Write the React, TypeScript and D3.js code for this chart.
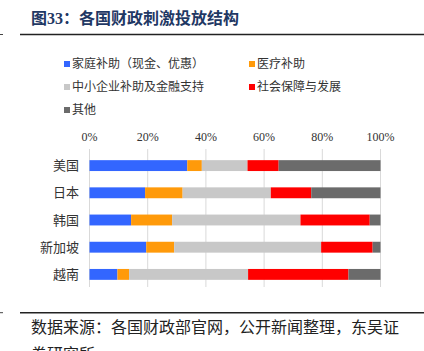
import React, { useRef, useEffect } from "react";
import { select, scaleLinear, scaleBand, stack } from "d3";

const countries = ["美国", "日本", "韩国", "新加坡", "越南"];
const seriesNames = [
  "家庭补助（现金、优惠）",
  "医疗补助",
  "中小企业补助及金融支持",
  "社会保障与发展",
  "其他",
];
const household = [33.6, 19.1, 14.3, 19.5, 9.6];
const medical = [5.0, 12.9, 14.1, 9.6, 4.0];
const sme = [15.7, 30.3, 44.1, 50.5, 40.9];
const social = [10.7, 13.9, 23.8, 17.7, 34.5];
const other = [35.0, 23.8, 3.7, 2.7, 11.0];
const tickValues = [0, 20, 40, 60, 80, 100];
const colors = ["#3366FF", "#FF9A0A", "#C8C8C8", "#FF0000", "#6B6B6B"];

const FONT = "'Liberation Serif', 'Noto Sans CJK SC', serif";

function App() {
  const svgRef = useRef(null);

  useEffect(() => {
    const svg = select(svgRef.current);
    svg.selectAll("*").remove();

    // title + rules
    svg
      .append("text")
      .attr("x", 31)
      .attr("y", 24)
      .attr("fill", "#1F3864")
      .attr("font-weight", "bold")
      .attr("font-size", 16)
      .text("图33：各国财政刺激投放结构");
    [34.5, 312.7].forEach((y) => {
      svg.append("line").attr("x1", 20).attr("x2", 424).attr("y1", y).attr("y2", y)
        .attr("stroke", "#222").attr("stroke-width", 1.4);
      svg.append("line").attr("x1", 0).attr("x2", 3).attr("y1", y).attr("y2", y)
        .attr("stroke", "#444").attr("stroke-width", 1);
    });

    // legend
    const legendPos = [
      [64, 64], [249, 64], [64, 87], [249, 87], [64, 110],
    ];
    seriesNames.forEach((name, i) => {
      const [lx, ly] = legendPos[i];
      svg.append("rect").attr("x", lx).attr("y", ly - 3).attr("width", 6).attr("height", 6)
        .attr("fill", colors[i]);
      svg.append("text").attr("x", lx + 8).attr("y", ly).attr("dominant-baseline", "central")
        .attr("font-size", 12).attr("fill", "#333").text(name);
    });

    const x = scaleLinear().domain([0, 100]).range([89.5, 380.5]);
    const y = scaleBand().domain(countries).range([152, 288]).paddingInner(0.6).paddingOuter(0.3);

    // grid
    svg.selectAll(".grid").data(tickValues).join("line")
      .attr("class", "grid")
      .attr("x1", (d) => x(d)).attr("x2", (d) => x(d))
      .attr("y1", 149).attr("y2", 287)
      .attr("stroke", "#D9D9D9").attr("stroke-width", 1);

    svg.selectAll(".tick").data(tickValues).join("text")
      .attr("class", "tick")
      .attr("x", (d) => x(d)).attr("y", 141)
      .attr("text-anchor", "middle").attr("font-size", 12).attr("fill", "#333")
      .text((d) => d + "%");

    const rows = countries.map((c, i) => ({
      country: c,
      s0: household[i], s1: medical[i], s2: sme[i], s3: social[i], s4: other[i],
    }));
    const layers = stack().keys(["s0", "s1", "s2", "s3", "s4"])(rows);

    svg.selectAll(".layer").data(layers).join("g")
      .attr("class", "layer")
      .attr("fill", (d, i) => colors[i])
      .selectAll("rect")
      .data((d) => d)
      .join("rect")
      .attr("x", (d) => x(d[0]))
      .attr("width", (d) => x(d[1]) - x(d[0]))
      .attr("y", (d) => y(d.data.country))
      .attr("height", y.bandwidth());

    svg.selectAll(".cat").data(countries).join("text")
      .attr("class", "cat")
      .attr("x", 79).attr("y", (d) => y(d) + y.bandwidth() / 2)
      .attr("text-anchor", "end").attr("dominant-baseline", "central")
      .attr("font-size", 13).attr("fill", "#333")
      .text((d) => d);

    // source
    svg.append("text").attr("x", 31).attr("y", 333).attr("font-size", 16).attr("fill", "#222")
      .text("数据来源：各国财政部官网，公开新闻整理，东吴证");
    svg.append("text").attr("x", 31).attr("y", 360).attr("font-size", 16).attr("fill", "#222")
      .text("券研究所");
  }, []);

  return (
    <svg
      ref={svgRef}
      width={424}
      height={351}
      style={{ position: "absolute", left: 0, top: 0, background: "#fff", fontFamily: FONT }}
    ></svg>
  );
}

export default App;
